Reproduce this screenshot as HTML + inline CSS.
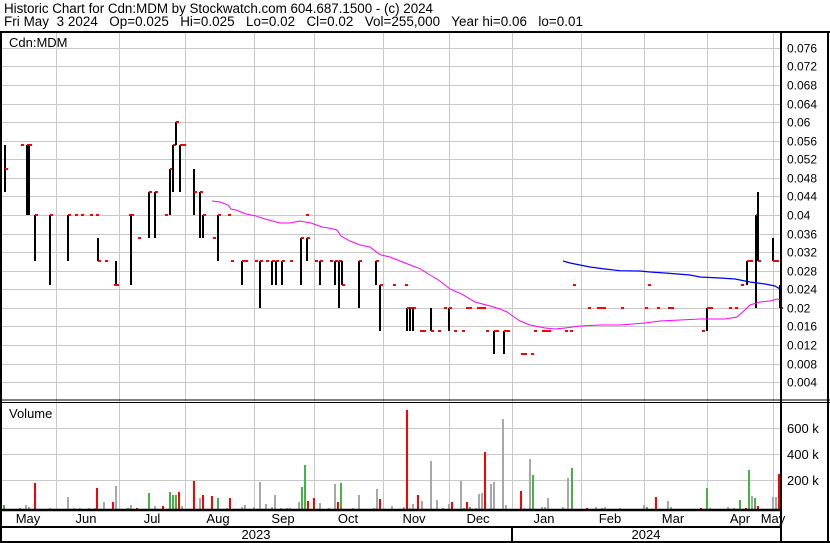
<!DOCTYPE html><html><head><style>
body{margin:0;background:#fff;}
svg{display:block;font-family:"Liberation Sans",Arial,sans-serif;}
</style></head><body>
<svg id="s" width="830" height="543" xmlns="http://www.w3.org/2000/svg">
<rect width="830" height="543" fill="#fff"/>
<text x="4" y="13" font-size="13.4" textLength="429" lengthAdjust="spacing">Historic Chart for Cdn:MDM by Stockwatch.com 604.687.1500 - (c) 2024</text>
<text x="4" y="26" font-size="13.4" xml:space="preserve" textLength="579" lengthAdjust="spacing">Fri May  3 2024   Op=0.025   Hi=0.025   Lo=0.02   Cl=0.02   Vol=255,000   Year hi=0.06   lo=0.01</text>
<g id="grid" stroke="#c8c8c8" stroke-width="1"></g>
<g id="vol"></g>
<g id="price"></g>
<polyline id="ma1" fill="none" stroke="#ff00ff" stroke-width="1"/>
<polyline id="ma2" fill="none" stroke="#0000ee" stroke-width="1.2"/>
<text x="9" y="47" font-size="13">Cdn:MDM</text>
<text x="9" y="418" font-size="13">Volume</text>
<g stroke="#000">
<line x1="0" y1="32" x2="830" y2="32" stroke-width="2"/>
<line x1="1" y1="32" x2="1" y2="543" stroke-width="2"/>
<line x1="781" y1="32" x2="781" y2="543" stroke-width="2"/>
<line x1="0" y1="400" x2="830" y2="400" stroke-width="1"/>
<line x1="0" y1="402.5" x2="830" y2="402.5" stroke-width="1"/>
<line x1="0" y1="510" x2="781" y2="510" stroke-width="2.5"/>
<line x1="0" y1="527" x2="781" y2="527" stroke-width="2"/>
<line x1="0" y1="542" x2="830" y2="542" stroke-width="2"/>
<line x1="512" y1="527" x2="512" y2="542" stroke-width="2"/>
<line x1="828" y1="32" x2="828" y2="543" stroke-width="2"/>
</g>
<g font-size="13" text-anchor="middle">
<text x="28" y="523">May</text><text x="86" y="523">Jun</text><text x="152" y="523">Jul</text><text x="218" y="523">Aug</text><text x="283" y="523">Sep</text><text x="348" y="523">Oct</text><text x="414" y="523">Nov</text><text x="478" y="523">Dec</text><text x="544" y="523">Jan</text><text x="610" y="523">Feb</text><text x="673" y="523">Mar</text><text x="740" y="523">Apr</text><text x="773" y="523">May</text>
<text x="256" y="539">2023</text><text x="646" y="539">2024</text>
</g>
<g id="lab" font-size="12"></g>
<g font-size="13"><text x="787" y="433">600 k</text><text x="787" y="459">400 k</text><text x="787" y="485">200 k</text></g>
</svg>
<script>
const NS="http://www.w3.org/2000/svg";
function el(p,t,a){const e=document.createElementNS(NS,t);for(const k in a)e.setAttribute(k,a[k]);p.appendChild(e);return e;}
const Y=p=>400.8-p*4645;
const g=document.getElementById('grid'),lab=document.getElementById('lab');
for(let i=1;i<=19;i++){const p=i*0.004,y=Math.round(Y(p))+0.5;el(g,'line',{x1:0,x2:781,y1:y,y2:y});const t=el(lab,'text',{x:787,y:y+4});t.textContent=p.toFixed(3).replace(/0+$/,'').replace(/^0\./,'0.');}
[428,454,480].forEach(y=>el(g,'line',{x1:0,x2:781,y1:y+.5,y2:y+.5}));
[56,119,185,254,314,383,449,512,581,644,707,773].forEach(x=>el(g,'line',{x1:x+.5,x2:x+.5,y1:33,y2:509}));
const pr=document.getElementById('price');
const B=[[5,.055,.045,.05],[21,0,0,.055],[27,.055,.04,.055],[29,.055,.04,.055],[35,.04,.03,.04],[50,.04,.025,.04],[68,.04,.03,.04],[75,0,0,.04],[81,0,0,.04],[90,0,0,.04],[96,0,0,.04],[98,.035,.03,.03],[105,0,0,.03],[116,.03,.025,.025],[114,0,0,.025],[129,0,0,.04],[131,.04,.025,.04],[138,0,0,.035],[149,.045,.035,.045],[155,.045,.035,.045],[165,0,0,.04],[170,.05,.04,.05],[173,.055,.045,.055],[176,.06,.055,.06],[180,.055,.045,.055],[183,0,0,.055],[194,.05,.04,.045],[200,.045,.035,.045],[203,.04,.035,.04],[213,0,0,.035],[218,.04,.03,.04],[228,0,0,.04],[231,0,0,.03],[242,.03,.025,.03],[245,0,0,.03],[255,0,0,.03],[260,.03,.02,.03],[266,0,0,.03],[272,.03,.025,.03],[276,.03,.025,.03],[282,.03,.025,.03],[290,0,0,.03],[301,.035,.025,.035],[306,0,0,.04],[307,.035,.03,.035],[315,0,0,.03],[320,.03,.025,.03],[330,0,0,.03],[335,.03,.025,.03],[339,.03,.02,.03],[342,.03,.025,.025],[359,.03,.02,.03],[376,.03,.025,.03],[380,.025,.015,.025],[393,0,0,.025],[405,0,0,.025],[407,.02,.015,.02],[410,.02,.015,.02],[413,.02,.015,.02],[420,0,0,.015],[423,0,0,.015],[431,.02,.015,.015],[438,0,0,.015],[444,0,0,.02],[449,.02,.015,.02],[454,0,0,.015],[462,0,0,.015],[466,0,0,.02],[469,0,0,.02],[477,0,0,.02],[480,0,0,.02],[483,0,0,.02],[486,0,0,.015],[494,.015,.01,.015],[496,0,0,.015],[504,.015,.01,.015],[507,0,0,.015],[521,0,0,.01],[524,0,0,.01],[531,0,0,.01],[534,0,0,.015],[542,0,0,.015],[545,0,0,.015],[548,0,0,.015],[565,0,0,.015],[570,0,0,.015],[573,0,0,.025],[588,0,0,.02],[597,0,0,.02],[600,0,0,.02],[603,0,0,.02],[621,0,0,.02],[645,0,0,.02],[648,0,0,.025],[657,0,0,.02],[668,0,0,.02],[671,0,0,.02],[702,0,0,.015],[707,.02,.015,.02],[710,0,0,.02],[729,0,0,.02],[735,0,0,.02],[741,0,0,.025],[747,.03,.025,.03],[750,0,0,.03],[756,.04,.02,.04],[758,.045,.03,.03],[773,.035,.03,.03],[776,0,0,.03],[780,.025,.02,.02]];
B.forEach(([x,h,l,t])=>{if(h){el(pr,'rect',{x:x-1,y:Math.round(Y(h)),width:2,height:Math.round(Y(l))-Math.round(Y(h)),fill:'#000'});}
el(pr,'rect',{x:x,y:Math.round(Y(t))-1,width:3,height:2,fill:'#f00'});});
const M1=[[212,201],[220,202],[228,205],[231,209],[236,210],[246,214],[255,215.7],[265,219],[280,223],[290,223],[300,221],[311,223],[322,227],[330,228.3],[337,230],[341,236],[350,241],[360,245],[370,247],[380,254.7],[390,257],[405,263],[420,268.7],[430,275],[440,281],[450,289],[463,294.7],[475,302],[490,306],[500,309],[507,312],[520,321],[530,325],[545,328],[555,329],[565,328],[580,326],[600,325],[620,325],[645,323],[660,321],[700,319],[725,319],[737,317],[745,310],[750,305],[760,302],[770,301],[777,299],[780,300]];
const M2=[[563,261],[570,263],[580,265],[590,267],[605,269],[620,270.7],[640,271],[650,272],[665,273],[690,275],[700,277],[720,278],[735,279],[750,282],[765,284],[775,286],[780,289]];
document.getElementById('ma1').setAttribute('points',M1.map(p=>p.join(',')).join(' '));
document.getElementById('ma2').setAttribute('points',M2.map(p=>p.join(',')).join(' '));
const vg=document.getElementById('vol');const C={r:'#f00',g:'#44b444',k:'#a8a8a8'};
const V=[[4,'g',505],[20,'g',508],[26,'k',505],[29,'k',507],[35,'r',483],[50,'k',508],[68,'k',497],[74,'k',508],[80,'k',508],[89,'k',508],[95,'k',508],[97,'r',488],[104,'k',502],[113,'r',502],[116,'k',486],[128,'g',508],[131,'k',505],[137,'r',508],[149,'g',493],[155,'k',506],[163,'r',506],[170,'g',492],[173,'g',495],[176,'g',495],[179,'r',492],[182,'k',506],[194,'r',481],[200,'k',498],[203,'r',495],[212,'r',496],[218,'g',498],[227,'k',508],[230,'r',498],[242,'k',507],[245,'k',505],[254,'k',507],[260,'k',482],[266,'k',504],[272,'k',507],[275,'k',495],[281,'k',508],[287,'k',508],[290,'k',508],[299,'k',502],[302,'g',487],[305,'g',465],[308,'r',501],[314,'r',498],[320,'k',503],[329,'k',508],[335,'k',484],[338,'r',502],[341,'g',483],[353,'k',508],[359,'k',495],[374,'k',508],[377,'k',489],[380,'r',499],[392,'k',506],[404,'k',507],[407,'r',410],[410,'k',508],[413,'k',504],[418,'r',495],[422,'k',501],[431,'k',461],[437,'k',500],[443,'g',508],[449,'k',504],[452,'r',502],[461,'k',481],[464,'g',508],[467,'r',502],[470,'g',507],[476,'k',508],[479,'k',494],[482,'k',493],[485,'r',452],[491,'k',484],[494,'k',482],[503,'k',419],[506,'k',505],[521,'r',491],[524,'k',508],[530,'k',459],[533,'g',475],[542,'k',507],[545,'k',507],[548,'k',498],[563,'k',507],[568,'k',478],[572,'g',468],[587,'r',508],[596,'k',507],[602,'k',508],[605,'k',507],[620,'k',508],[644,'k',505],[647,'g',507],[656,'r',497],[668,'k',501],[671,'k',507],[701,'r',508],[707,'g',488],[710,'k',508],[728,'k',507],[734,'k',508],[740,'g',500],[746,'r',508],[749,'g',470],[752,'k',496],[755,'g',498],[758,'r',506],[773,'k',497],[776,'k',497],[779,'r',474]];
V.forEach(([x,c,t])=>el(vg,'rect',{x:x-1,y:t,width:2,height:509-t,fill:C[c]}));
</script>
</body></html>
